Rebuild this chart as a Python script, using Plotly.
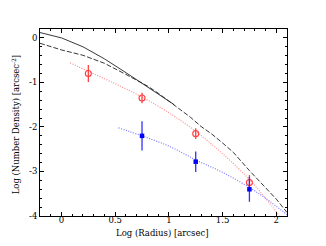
import plotly.graph_objects as go

# Model profiles (black)
solid_x = [-0.2, 0.0, 0.2, 0.4, 0.6, 0.8, 0.9, 1.0, 1.05]
solid_y = [0.12, 0.0, -0.2, -0.47, -0.78, -1.1, -1.24, -1.42, -1.5]
dash_x = [-0.2, 0.0, 0.2, 0.4, 0.6, 0.8, 0.9, 1.0, 1.2, 1.3, 1.4, 1.5, 1.6, 1.75, 1.9, 2.0, 2.1]
dash_y = [-0.12, -0.27, -0.39, -0.57, -0.82, -1.08, -1.24, -1.42, -1.78, -1.99, -2.16, -2.36, -2.57, -2.98, -3.35, -3.62, -3.92]

# Fitted dotted curves
red_fit_x = [0.08, 0.25, 0.5, 0.75, 1.0, 1.25, 1.5, 1.75, 1.9, 2.03]
red_fit_y = [-0.56, -0.75, -1.03, -1.33, -1.68, -2.1, -2.6, -3.18, -3.6, -4.0]
blue_fit_x = [0.53, 0.75, 1.0, 1.25, 1.5, 1.75, 1.9, 2.1]
blue_fit_y = [-2.02, -2.2, -2.43, -2.74, -3.02, -3.36, -3.6, -3.97]

# Data points
red_x = [0.25, 0.75, 1.25, 1.75]
red_y = [-0.80, -1.35, -2.15, -3.25]
red_err = [0.19, 0.12, 0.12, 0.17]
blue_x = [0.75, 1.25, 1.75]
blue_y = [-2.20, -2.78, -3.40]
blue_err = [0.33, 0.23, 0.28]

x_ticks = [0, 0.5, 1, 1.5, 2]
x_tick_text = ["0", "0.5", "1", "1.5", "2"]
y_ticks = [0, -1, -2, -3, -4]
y_tick_text = ["0", "-1", "-2", "-3", "-4"]

x_title = "Log (Radius) [arcsec]"
y_title = "Log (Number Density) [arcsec<sup>-2</sup>]"

FONT = "DejaVu Serif"

fig = go.Figure()
fig.add_trace(go.Scatter(x=solid_x, y=solid_y, mode="lines",
                         line=dict(color="#222222", width=0.9)))
fig.add_trace(go.Scatter(x=dash_x, y=dash_y, mode="lines",
                         line=dict(color="#222222", width=0.9, dash="5px,2px")))
fig.add_trace(go.Scatter(x=red_fit_x, y=red_fit_y, mode="lines", line_shape="spline",
                         line=dict(color="#ff8c8c", width=1.2, dash="1px,1.5px")))
fig.add_trace(go.Scatter(x=blue_fit_x, y=blue_fit_y, mode="lines", line_shape="spline",
                         line=dict(color="#7c7cff", width=1.2, dash="1px,1.5px")))
fig.add_trace(go.Scatter(x=red_x, y=red_y, mode="markers",
                         marker=dict(symbol="circle-open", size=6, color="#ff4040", line=dict(width=1.1)),
                         error_y=dict(type="data", array=red_err, color="#ff4040", thickness=1.3, width=0)))
fig.add_trace(go.Scatter(x=blue_x, y=blue_y, mode="markers",
                         marker=dict(symbol="square", size=4.5, color="#0000ff"),
                         error_y=dict(type="data", array=blue_err, color="#3030ff", thickness=1.3, width=0)))

axis_common = dict(showgrid=False, zeroline=False, showline=True, linecolor="black", linewidth=1,
                   mirror="ticks", ticks="inside", ticklen=4, tickcolor="black", tickwidth=1,
                   automargin=False,
                   tickfont=dict(family=FONT, size=8.5, color="black"))
fig.update_xaxes(range=[-0.2, 2.1], tickvals=x_ticks, ticktext=x_tick_text,
                 ticklabelstandoff=-4,
                 minor=dict(dtick=0.1, tick0=0, ticks="inside", ticklen=2, tickcolor="black"),
                 **axis_common)
fig.update_yaxes(range=[-4, 0.2], tickvals=y_ticks, ticktext=y_tick_text,
                 minor=dict(dtick=0.2, tick0=0, ticks="inside", ticklen=2, tickcolor="black"),
                 **axis_common)
fig.add_annotation(text=x_title, xref="paper", yref="paper", x=0.496, y=0,
                   xanchor="center", yanchor="middle", yshift=-17, showarrow=False,
                   font=dict(family=FONT, size=8.5, color="black"))
fig.add_annotation(text=y_title, xref="paper", yref="paper", x=0, y=0.49,
                   xanchor="center", yanchor="middle", xshift=-24, textangle=-90, showarrow=False,
                   font=dict(family=FONT, size=8.5, color="black"))
fig.update_layout(width=318, height=238, margin=dict(l=32, r=39, t=21, b=30),
                  paper_bgcolor="white", plot_bgcolor="white", showlegend=False)
fig.write_html("out.html")
